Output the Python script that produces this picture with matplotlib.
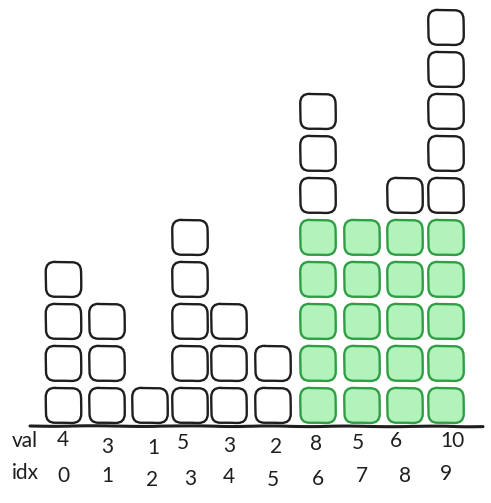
import matplotlib
matplotlib.use("Agg")
import matplotlib.pyplot as plt
from matplotlib.patches import FancyBboxPatch

# data
values = [4, 3, 1, 5, 3, 2, 8, 5, 6, 10]
indices = [0, 1, 2, 3, 4, 5, 6, 7, 8, 9]
highlight = [0, 0, 0, 0, 0, 0, 5, 5, 5, 5]   # green boxes at bottom of each column

# layout (pixel coordinates, y going down)
col_x = [63.5, 107, 150, 190, 229, 273, 318, 362, 405, 446]
val_x = [63, 107, 153, 183, 229, 276, 316, 358, 396, 452]
val_dy = [-1, 6, 7, 2, 5, 6, 3, 2, 0, 0]
idx_dy = [0, 0, 4, 3, 1, 4, 3, 0, 0, -2]
base_y = 423
box = 35
pitch = 42


def main():
    fig = plt.figure(figsize=(4.91, 5.03), dpi=100)
    ax = fig.add_axes([0, 0, 1, 1])
    ax.set_xlim(0, 491)
    ax.set_ylim(503, 0)
    ax.axis("off")

    for i, (x, v) in enumerate(zip(col_x, values)):
        for k in range(v):
            green = k < highlight[i]
            y0 = base_y - k * pitch - box
            p = FancyBboxPatch((x - box / 2 + 4, y0 + 4), box - 8, box - 8,
                               boxstyle="round,pad=4,rounding_size=9",
                               facecolor="#b2f2bb" if green else "none",
                               edgecolor="#2f9e44" if green else "#1e1e1e",
                               lw=1.7, joinstyle="round")
            p.set_sketch_params(scale=0.25, length=80, randomness=4)
            ax.add_patch(p)

    # baseline
    base, = ax.plot([30, 483], [426, 426.5], color="#1e1e1e", lw=2.2,
                    solid_capstyle="round")
    base.set_sketch_params(scale=0.3, length=120, randomness=4)

    font = dict(family="Lato", fontsize=15, color="#1e1e1e",
                ha="center", va="center")
    ax.text(25, 441, "val", **font)
    ax.text(25, 473, "idx", **font)
    for i in range(len(values)):
        ax.text(val_x[i], 441 + val_dy[i], str(values[i]), **font)
        ax.text(col_x[i] + (2 if i == 2 else 0), 476 + idx_dy[i],
                str(indices[i]), **font)

    fig.savefig("out.png", dpi=100, facecolor="white")


if __name__ == "__main__":
    main()
